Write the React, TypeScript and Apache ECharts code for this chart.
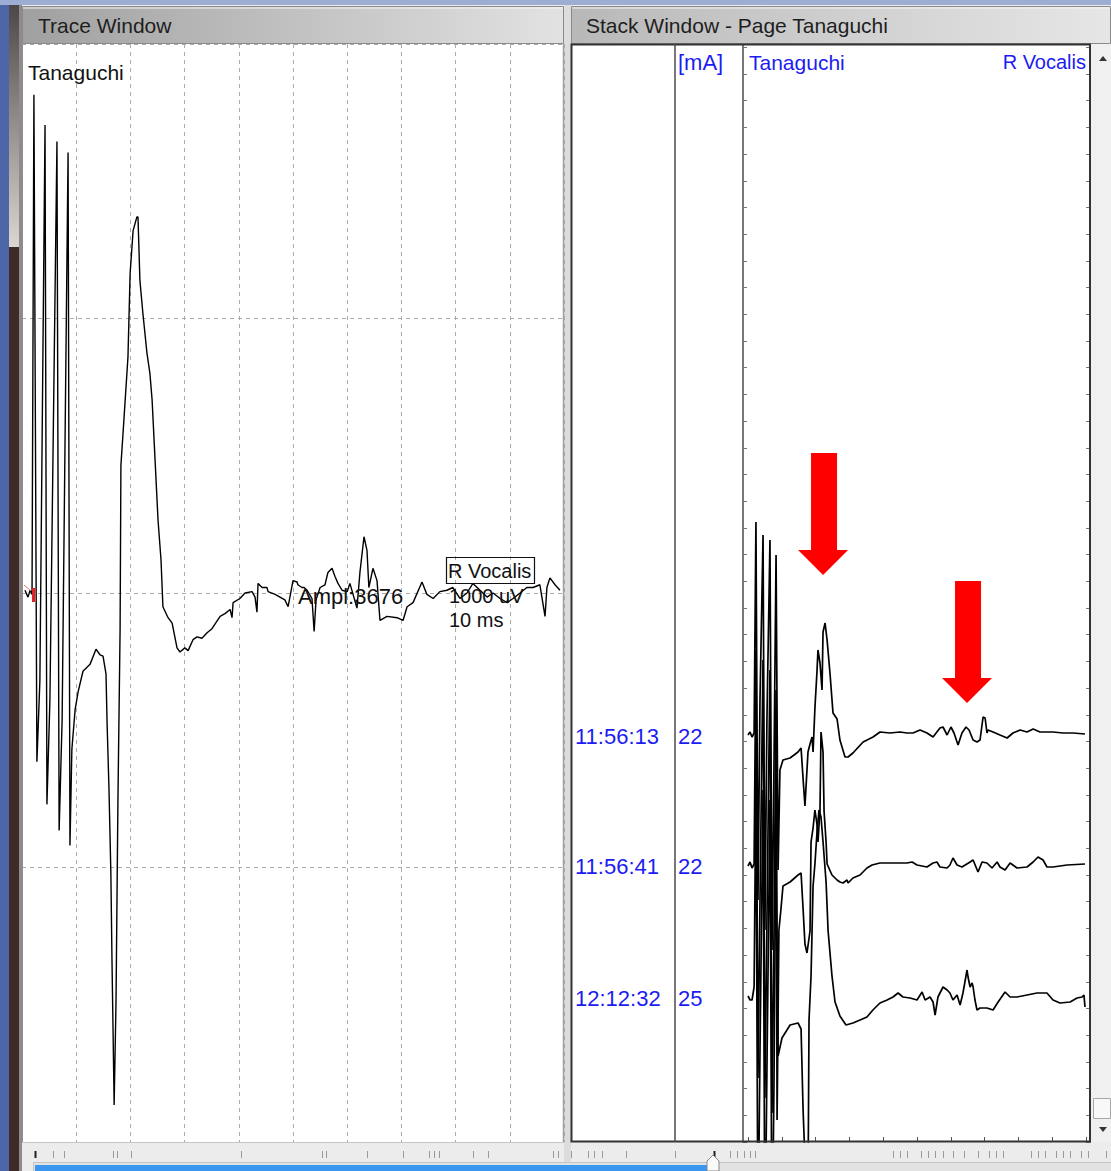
import React, { useEffect, useRef } from "react";
import * as echarts from "echarts";

const W = 1111;
const H = 1171;
const FONT = '"Liberation Sans", Arial, sans-serif';

// ---- Trace Window: R Vocalis (Tanaguchi), [time ms, amplitude uV] ----
const leftTrace: [number, number][] = [
  [0.55, 10], [1.1, -15], [1.5, 10], [1.85, -5], [2.2, 1815], [2.75, -615], [3.3, -320],
  [4.25, 1705], [4.6, -770], [5.15, -390], [6.45, 1645], [6.85, -865], [7.4, -465],
  [8.5, 1605], [8.85, -920], [9.2, -570], [9.8, -425], [10.35, -360], [11.25, -285],
  [12.55, -260], [13.65, -205], [14.4, -225], [14.95, -230], [15.5, -295], [15.7, -475],
  [16.05, -715], [16.4, -1025], [16.6, -1335], [16.8, -1595], [17.0, -1865], [17.35, -1485],
  [17.7, -755], [18.1, -130], [18.25, 465], [18.8, 630], [19.55, 860], [19.95, 1165],
  [20.5, 1320], [21.2, 1370], [21.4, 1370], [21.75, 1140], [22.3, 1020], [23.05, 875],
  [23.6, 800], [24.0, 705], [24.55, 485], [25.1, 265], [25.65, 120], [26.0, -50],
  [26.95, -90], [27.7, -110], [28.6, -200], [29.15, -215], [30.05, -200], [30.65, -210],
  [31.55, -170], [32.3, -160], [33.2, -165], [34.15, -145], [35.05, -130], [36.55, -85],
  [37.45, -75], [38.4, -60], [38.75, -90], [38.95, -35], [40.2, -20], [41.15, 0],
  [42.45, 5], [43.0, -15], [43.35, -70], [43.55, 35], [44.3, 20], [45.2, 20], [45.4, 5],
  [46.7, -5], [48.5, -25], [49.1, -50], [50.0, 45], [50.75, 40], [50.9, 30], [51.65, 20],
  [52.05, 20], [52.6, 10], [53.5, -20], [53.9, -140], [54.25, -25], [55.0, 20], [55.9, 30],
  [56.45, 75], [57.2, 90], [57.75, 60], [58.3, 35], [59.05, 10], [60.0, 5], [60.5, 35],
  [61.8, -55], [62.35, 75], [63.1, 205], [63.65, 155], [64.0, 20], [64.75, 90], [65.5, 45],
  [66.05, -100], [67.35, -85], [69.2, -90], [70.3, -100], [71.05, -50], [72.15, -35],
  [73.8, 40], [74.7, -5], [75.85, -20], [77.1, 5], [78.4, 10], [79.5, 20], [80.8, -20],
  [82.1, 0], [83.2, 35], [84.5, 10], [85.8, -15], [86.9, 0], [88.2, -20], [89.5, -35],
  [90.6, -20], [91.9, 0], [93.15, 20], [94.3, 20], [95.55, 30], [96.5, -85], [96.85, 20],
  [97.4, 55], [98.35, 30], [99.25, 10],
];

// ---- Stack Window traces [time ms, amplitude (stack units)] ----
const stackTrace1: [number, number][] = [
  [0, 0], [0.6, 30], [1.2, -20], [1.8, 20], [2.35, 2130], [2.95, -1650], [3.55, 350],
  [4.45, 2000], [5.0, -1950], [5.6, 150], [6.5, 1950], [7.1, -2150], [7.7, -250],
  [8.3, 1800], [8.9, -1350], [9.45, -350], [10.35, -250], [12.45, -230], [14.8, -170],
  [15.7, -130], [16.3, -440], [16.85, -710], [17.75, -170], [18.35, -90], [18.95, -20],
  [19.25, -170], [19.8, 270], [20.4, 630], [20.7, 850], [21.3, 720], [21.9, 450],
  [22.2, 1030], [22.8, 1120], [23.4, 950], [24.25, 620], [25.15, 220], [26.35, 160],
  [27.2, -50], [28.7, -220], [29.6, -220], [31.05, -180], [34.05, -70], [37.0, -20],
  [39.05, 30], [42.0, 20], [45.0, 30], [47.05, 20], [48.8, 20], [50.9, 50], [52.95, 20],
  [54.75, -20], [56.8, 70], [57.7, 80], [58.9, 0], [60.05, 80], [60.95, 20], [62.15, -100],
  [63.3, 20], [64.5, 80], [65.4, 50], [66.6, -50], [67.75, -70], [68.65, -50], [69.55, 180],
  [70.15, 170], [70.7, 20], [71.0, 50], [72.5, 30], [74.55, 0], [76.65, -30], [78.4, 20],
  [80.5, 50], [82.55, 30], [84.35, 60], [86.4, 30], [90.25, 30], [93.2, 20], [96.15, 20],
  [99.7, 10],
];
const stackTrace2: [number, number][] = [
  [0, -10], [0.6, 30], [1.2, -30], [1.8, 10], [2.35, 2150], [2.95, -2130], [3.55, -350],
  [4.45, 2050], [5.0, -2330], [5.6, -550], [6.5, 1950], [7.1, -2480], [7.7, -650],
  [8.3, 1750], [8.6, -2550], [9.15, -650], [9.75, -440], [10.35, -210], [12.45, -170],
  [14.8, -100], [15.7, -80], [16.3, -440], [16.85, -790], [17.45, -880], [18.35, -660],
  [18.65, 230], [19.25, 370], [19.8, 550], [20.4, 410], [20.7, 230], [21.3, 550],
  [21.6, 1330], [22.2, 1130], [22.5, 540], [23.1, 230], [23.4, 10], [24.85, -100],
  [26.35, -150], [27.2, -170], [28.1, -180], [29.3, -150], [29.6, -180], [31.05, -130],
  [33.15, -100], [35.2, -30], [36.7, 0], [39.05, 20], [42.9, 20], [47.05, 20], [48.55, 30],
  [50.0, 0], [52.95, -20], [54.75, 20], [55.9, 30], [56.8, -20], [58.9, -30], [59.75, 0],
  [60.65, 70], [61.85, 0], [63.3, -20], [65.7, 30], [66.6, 50], [68.05, -70], [69.25, 30],
  [70.7, 20], [72.2, -30], [73.7, 30], [74.55, -20], [76.05, -50], [77.55, 20], [79.6, -30],
  [82.55, -20], [84.35, 30], [85.8, 80], [87.3, 50], [88.45, -20], [90.25, -20], [94.4, 0],
  [99.7, 10],
];
const stackTrace3: [number, number][] = [
  [0, 10], [0.6, -30], [1.2, -30], [1.8, 100], [2.35, 2170], [2.95, -2530], [3.55, -530],
  [4.45, 2070], [5.0, -2630], [5.6, -730], [6.5, 1970], [7.1, -2730], [7.7, -830],
  [8.3, 1870], [8.9, -590], [10.05, -410], [12.45, -280], [14.8, -260], [15.7, -320],
  [16.3, -1130], [16.85, -1630], [17.15, -2530], [17.75, -2030], [18.05, -230], [18.65, 210],
  [18.95, 660], [19.25, 1110], [19.8, 1330], [20.4, 1640], [21.0, 1870], [21.6, 1800],
  [22.2, 1550], [23.1, 1150], [23.7, 660], [24.85, 210], [25.75, -50], [27.2, -190],
  [29.0, -280], [31.05, -260], [33.15, -230], [35.2, -200], [36.95, -130], [39.05, -60],
  [41.15, -30], [42.9, 0], [44.4, 40], [45.85, 0], [47.95, -10], [50.0, -30], [51.5, 50],
  [52.4, -30], [53.85, 0], [54.75, -50], [55.35, -180], [56.2, 0], [57.7, 100], [58.9, 70],
  [59.75, 40], [60.65, -30], [61.85, 20], [62.75, -80], [63.6, 40], [64.8, 270], [65.1, 200],
  [65.7, 100], [66.3, 140], [66.6, 100], [67.15, -30], [67.75, -130], [68.65, -110],
  [70.7, -110], [72.5, -130], [74.0, -50], [76.05, 50], [77.55, 0], [79.6, 0], [82.55, 20],
  [85.5, 40], [88.45, 40], [90.25, -30], [92.3, -60], [95.3, -50], [97.35, -10], [98.85, 0],
  [99.4, 20], [99.7, -100],
];
const stackTraces = [stackTrace1, stackTrace2, stackTrace3];
const stackTimes = ["11:56:13", "11:56:41", "12:12:32"];
const stackMilliamps = [22, 22, 25];

// Arrow tips (annotations on stack trace 1), [ms, units]
const arrowTips: [number, number][] = [
  [22.2, 1600],
  [64.8, 320],
];

// timeline event marks under the windows (px positions along the timeline bar)
const timelineMarks = [
  35, 53, 64, 113, 117, 131, 241, 322, 326, 367, 403, 429, 434, 439, 473, 488, 553, 558, 571,
  588, 594, 602, 626, 675, 714, 730, 737, 744, 750, 755, 893, 900, 907, 921, 928, 935, 943,
  953, 964, 978, 989, 996, 1003, 1031, 1038, 1045, 1056, 1063, 1070, 1081, 1088, 1106,
];

// layout
const PLOT_TOP = 44;
const PLOT_H = 1098;
const STACK_BASELINES = [735, 865, 997];
const STACK_UNITS_PER_PX = 10;

const txt = (
  text: string,
  x: number,
  y: number,
  size: number,
  fill: string,
  align: string = "left"
) => ({
  type: "text",
  x,
  y,
  z: 30,
  silent: true,
  style: {
    text,
    fill,
    font: `${size}px ${FONT}`,
    textAlign: align,
    textVerticalAlign: "middle",
    verticalAlign: "middle",
  },
});

const hGrad = (a: string, b: string) => ({
  type: "linear",
  x: 0,
  y: 0,
  x2: 1,
  y2: 0,
  colorStops: [
    { offset: 0, color: a },
    { offset: 1, color: b },
  ],
});

function buildOption() {
  const hiddenAxis = {
    axisLine: { show: false, onZero: false },
    axisTick: { show: false },
    axisLabel: { show: false },
    splitLine: { show: false },
  };
  const dashed = { show: true, lineStyle: { color: "#ababab", type: [4, 4], width: 1 } };

  const grids: any[] = [
    { left: 22, top: PLOT_TOP, width: 542, height: PLOT_H, outerBoundsMode: "none" },
  ];
  const xAxes: any[] = [
    {
      gridIndex: 0, type: "value", min: 0, max: 100, interval: 10,
      axisLine: { show: false, onZero: false }, axisTick: { show: false },
      axisLabel: { show: false }, splitLine: dashed,
    },
  ];
  const yAxes: any[] = [
    {
      gridIndex: 0, type: "value", min: -2000, max: 2000, interval: 1000,
      axisLine: { show: false, onZero: false }, axisTick: { show: false },
      axisLabel: { show: false }, splitLine: dashed,
    },
  ];
  const series: any[] = [
    {
      type: "line", xAxisIndex: 0, yAxisIndex: 0, data: leftTrace, symbol: "none",
      showSymbol: false, lineStyle: { color: "#000", width: 1.4 }, clip: true, z: 5,
    },
  ];

  stackTraces.forEach((d, i) => {
    const gi = i + 1;
    const b = STACK_BASELINES[i];
    grids.push({ left: 748, top: PLOT_TOP, width: 338, height: PLOT_H, outerBoundsMode: "none" });
    xAxes.push({
      gridIndex: gi, type: "value", min: 0, max: 100, interval: 10,
      ...hiddenAxis,
      axisTick: i === 0
        ? { show: true, inside: true, length: 5, lineStyle: { color: "#555", width: 1 } }
        : { show: false },
    });
    yAxes.push({
      gridIndex: gi, type: "value",
      min: -(PLOT_TOP + PLOT_H - b) * STACK_UNITS_PER_PX,
      max: (b - PLOT_TOP) * STACK_UNITS_PER_PX,
      ...hiddenAxis,
    });
    series.push({
      type: "line", xAxisIndex: gi, yAxisIndex: gi, data: d, symbol: "none",
      showSymbol: false, lineStyle: { color: "#000", width: 1.7 }, clip: true, z: 5,
      markPoint: i === 0
        ? {
            symbol: "path://M13,0L39,0L39,97L50,97L25,122L0,97L13,97Z",
            symbolSize: [50, 122],
            symbolOffset: [0, "-50%"],
            itemStyle: { color: "#ff0000" },
            label: { show: false },
            silent: true,
            data: arrowTips.map(([x, y]) => ({ coord: [x, y] })),
          }
        : undefined,
    });
  });

  // frame grid for the stack tick rulers
  grids.push({ left: 743, top: PLOT_TOP, width: 347, height: PLOT_H, outerBoundsMode: "none" });
  xAxes.push({ gridIndex: 4, type: "value", min: 0, max: 1, ...hiddenAxis });
  const ruler = (position: string) => ({
    gridIndex: 4, type: "value", position, min: 0, max: PLOT_H / 26.7, interval: 1,
    axisLine: { show: true, onZero: false, lineStyle: { color: "#4a4a4a", width: 1.5 } },
    axisTick: { show: true, inside: true, length: 4, lineStyle: { color: "#777", width: 1 } },
    axisLabel: { show: false },
    splitLine: { show: false },
  });
  yAxes.push(ruler("left"));
  yAxes.push(ruler("right"));

  const bg = (x: number, y: number, w: number, h: number, fill: any, z = -10) => ({
    type: "rect", z, silent: true, shape: { x, y, width: w, height: h }, style: { fill },
  });
  const ln = (x1: number, y1: number, x2: number, y2: number, stroke: string, lw = 1, z = 25) => ({
    type: "line", z, silent: true, shape: { x1, y1, x2, y2 }, style: { stroke, lineWidth: lw },
  });

  const elements: any[] = [
    // desktop / window frame
    bg(0, 0, 9, H, "#4c66a8"),
    bg(9, 0, 10, 247, {
      type: "linear", x: 0, y: 0, x2: 0, y2: 1,
      colorStops: [{ offset: 0, color: "#4a4444" }, { offset: 1, color: "#dcd6d2" }],
    }),
    bg(9, 247, 10, H - 247, "#3e2b27"),
    bg(19, 0, 3, H, "#8c8c8c"),
    bg(0, 0, W, 5, "#9eadd4"),
    // panel backgrounds
    bg(22, PLOT_TOP, 542, PLOT_H, "#ffffff"),
    bg(572, PLOT_TOP, 518, PLOT_H, "#ffffff"),
    bg(1091, PLOT_TOP, 20, PLOT_H, "#f0f0f0"),
    bg(564, 5, 7, H - 5, "#dcdcdc"),
  ];

  // title bars
  elements.push({
    type: "rect", z: 20, silent: true,
    shape: { x: 22.5, y: 6.5, width: 541, height: 37 },
    style: { fill: hGrad("#a0a0a0", "#e2e2e2"), stroke: "#8a8a8a", lineWidth: 1 },
  });
  elements.push({
    type: "rect", z: 20, silent: true,
    shape: { x: 571.5, y: 6.5, width: 539, height: 37 },
    style: { fill: hGrad("#b8b8b8", "#e6e6e6"), stroke: "#8a8a8a", lineWidth: 1 },
  });
  elements.push(ln(23, 8, 563, 8, "#f4f4f4", 1, 21));
  elements.push(ln(572, 8, 1110, 8, "#f4f4f4", 1, 21));
  elements.push(txt("Trace Window", 38, 25, 21, "#1e1e1e"));
  elements.push(txt("Stack Window - Page Tanaguchi", 586, 25, 21, "#1e1e1e"));

  // left panel borders
  elements.push(ln(22.5, PLOT_TOP, 22.5, PLOT_TOP + PLOT_H, "#8e8e8e", 1));
  elements.push(ln(563.5, PLOT_TOP, 563.5, PLOT_TOP + PLOT_H, "#a0a0a0", 1.5));
  elements.push(ln(22, PLOT_TOP + PLOT_H + 0.5, 564, PLOT_TOP + PLOT_H + 0.5, "#c6c6c6", 1));

  // right stack frame
  elements.push({
    type: "rect", z: 25, silent: true,
    shape: { x: 571.5, y: 44.5, width: 518.5, height: PLOT_H - 1 },
    style: { fill: "none", stroke: "#333", lineWidth: 2 },
  });
  elements.push(ln(675, PLOT_TOP, 675, PLOT_TOP + PLOT_H, "#4a4a4a", 1.5));

  // scrollbar
  elements.push({
    type: "polygon", z: 25, silent: true,
    shape: { points: [[1099, 61], [1107, 61], [1103, 56]] }, style: { fill: "#333" },
  });
  elements.push({
    type: "polygon", z: 25, silent: true,
    shape: { points: [[1099, 1127], [1107, 1127], [1103, 1132]] }, style: { fill: "#333" },
  });
  elements.push({
    type: "rect", z: 25, silent: true,
    shape: { x: 1093.5, y: 1098.5, width: 17, height: 20 },
    style: { fill: "#f8f8f8", stroke: "#a8a8a8", lineWidth: 1 },
  });

  // left texts / annotations
  elements.push(txt("Tanaguchi", 28, 72, 21, "#111"));
  elements.push(txt("Ampl:3676", 298, 596, 22, "#111"));
  elements.push({
    type: "rect", z: 30, silent: true,
    shape: { x: 446.5, y: 557.5, width: 88, height: 26 },
    style: { fill: "none", stroke: "#111", lineWidth: 1.2 },
  });
  elements.push(txt("R Vocalis", 448, 571, 20, "#111"));
  elements.push(txt("1000 uV", 449, 596, 20, "#111"));
  elements.push(txt("10 ms", 449, 620, 20, "#111"));
  // red trace marker
  elements.push(bg(32, 588, 3, 14, "#e52020", 30));
  elements.push(ln(24, 585, 31, 591, "#f07070", 1, 30));

  // right texts
  const blue = "#1c1cf2";
  elements.push(txt("[mA]", 678, 62, 22, blue));
  elements.push(txt("Tanaguchi", 749, 62, 21, blue));
  elements.push(txt("R Vocalis", 1086, 62, 20, blue, "right"));
  stackTimes.forEach((t, i) => {
    elements.push(txt(t, 575, STACK_BASELINES[i] + 1, 22, blue));
    elements.push(txt(String(stackMilliamps[i]), 678, STACK_BASELINES[i] + 1, 22, blue));
  });

  // bottom timeline
  timelineMarks.forEach((x) => {
    const dark = x === 714 || x === 35;
    elements.push(ln(x + 0.5, 1151, x + 0.5, 1158, dark ? "#222" : "#9a9a9a", dark ? 2 : 1, 25));
  });
  elements.push({
    type: "rect", z: 25, silent: true,
    shape: { x: 33.5, y: 1162.5, width: 1078, height: 10 },
    style: { fill: "#e2e2e2", stroke: "#c4c4c4", lineWidth: 1 },
  });
  elements.push(bg(35, 1165, 677, 7, "#3a96ee", 26));
  elements.push({
    type: "polygon", z: 27, silent: true,
    shape: { points: [[707, 1171], [707, 1161], [713, 1155], [719, 1161], [719, 1171]] },
    style: { fill: "#fafafa", stroke: "#8a8a8a", lineWidth: 1 },
  });

  return {
    animation: false,
    backgroundColor: "#ececec",
    grid: grids,
    xAxis: xAxes,
    yAxis: yAxes,
    series,
    graphic: { elements },
  };
}

export default function App() {
  const ref = useRef<HTMLDivElement>(null);
  useEffect(() => {
    if (!ref.current) return;
    const chart = echarts.init(ref.current, undefined, { renderer: "svg", width: W, height: H });
    chart.setOption(buildOption() as any);
    return () => chart.dispose();
  }, []);
  return (
    <div
      ref={ref}
      style={{ position: "absolute", left: 0, top: 0, width: W, height: H }}
    />
  );
}
